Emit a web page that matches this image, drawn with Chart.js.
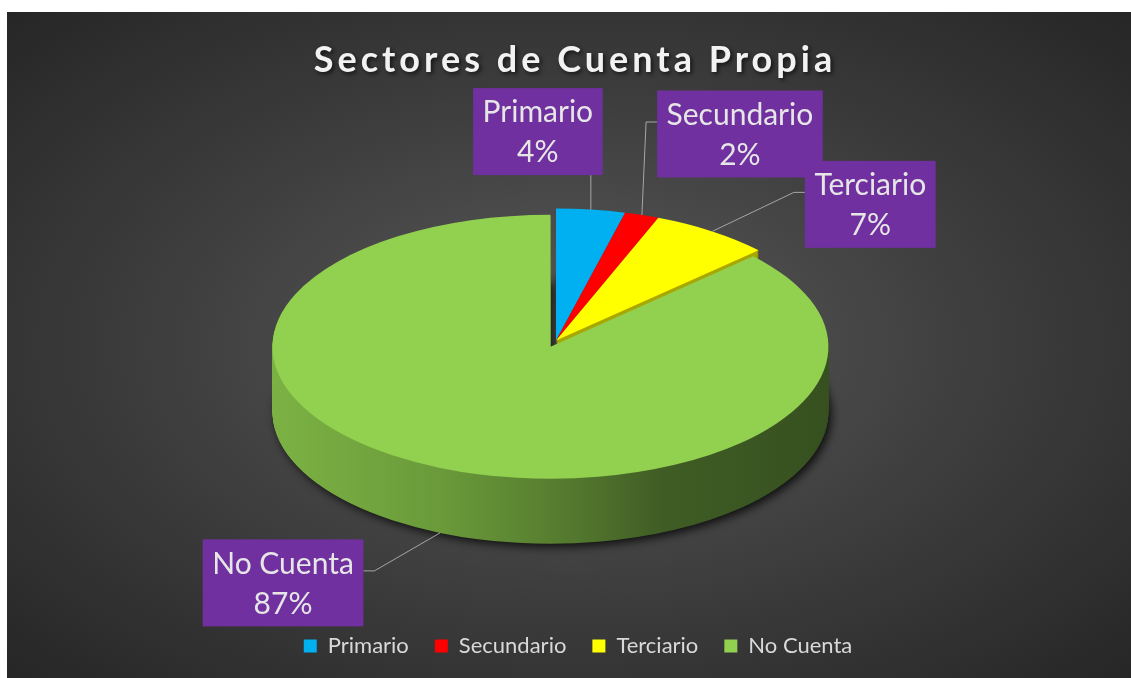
<!DOCTYPE html>
<html>
<head>
<meta charset="utf-8">
<script src="https://cdn.jsdelivr.net/npm/chart.js@4"></script>
<style>
  html, body { margin: 0; padding: 0; background: #fff; }
  .card {
    position: absolute; left: 7px; top: 12px; width: 1124px; height: 666px;
    background: radial-gradient(ellipse farthest-corner at 50% 50%, #5a5a5a 0%, #3c3c3c 55%, #262626 100%);
  }
</style>
</head>
<body>
<div class="card"><canvas id="chart" width="1124" height="666"></canvas></div>
<script>
const categories = ['Primario', 'Secundario', 'Terciario', 'No Cuenta'];
const values = [4, 2, 7, 87];
const topColors = ['#00B0F0', '#FF0000', '#FFFF00', '#92D050'];
const sideColors = ['#005f80', '#8c0000', '#a8a800', null];

// 3d look
const tilt = 0.475;
const depth = 65;
const explode = [0, 0, 0, 14];
// label box centre relative to its anchor on the pie edge
const labelOffsets = [[-53, -78], [98, -81], [158, -27], [-157, 50]];

Chart.defaults.font.family = 'Lato';

function paintArc(ctx, arc, fill) {
  const orig = arc.options;
  arc.options = Object.create(orig, { backgroundColor: { value: fill } });
  arc.draw(ctx);
  arc.options = orig;
}

const pie3d = {
  id: 'pie3d',
  afterInit(chart) {
    const ctx = chart.ctx;
    const title = chart.titleBlock;
    const titleDraw = title.draw.bind(title);
    title.draw = function () {
      ctx.save();
      ctx.translate(19, 0);
      ctx.letterSpacing = '4px';
      ctx.shadowColor = 'rgba(0,0,0,0.65)';
      ctx.shadowBlur = 4;
      ctx.shadowOffsetX = 2;
      ctx.shadowOffsetY = 2;
      titleDraw();
      ctx.restore();
    };
    const legend = chart.legend;
    const legendDraw = legend.draw.bind(legend);
    legend.draw = function () {
      ctx.save();
      ctx.translate(22, 0);
      legendDraw();
      ctx.restore();
    };
  },
  beforeDatasetsDraw(chart) {
    const ctx = chart.ctx;
    const arcs = chart.getDatasetMeta(0).data;
    const cx = arcs[0].x, cy = arcs[0].y, r = arcs[0].outerRadius;
    const shift = arcs.map((arc, i) => {
      const a = (arc.startAngle + arc.endAngle) / 2;
      return [Math.cos(a) * explode[i], Math.sin(a) * explode[i]];
    });

    const grad = ctx.createLinearGradient(cx - r, 0, cx + r, 0);
    grad.addColorStop(0, '#7cb244');
    grad.addColorStop(0.3, '#6a9a3a');
    grad.addColorStop(0.5, '#587f30');
    grad.addColorStop(0.7, '#405d25');
    grad.addColorStop(1, '#36501f');

    ctx.save();
    ctx.translate(0, cy);
    ctx.scale(1, tilt);
    ctx.translate(0, -cy);
    for (let d = depth; d > 0; d--) {
      if (d === depth) {
        ctx.shadowColor = 'rgba(0,0,0,0.8)';
        ctx.shadowBlur = 10;
        ctx.shadowOffsetX = 3;
        ctx.shadowOffsetY = 3;
      }
      arcs.forEach((arc, i) => {
        ctx.save();
        ctx.translate(shift[i][0], shift[i][1] + d / tilt);
        paintArc(ctx, arc, sideColors[i] || grad);
        ctx.restore();
      });
      if (d === depth) {
        ctx.shadowColor = 'rgba(0,0,0,0)';
        ctx.shadowBlur = 0;
        ctx.shadowOffsetX = 0;
        ctx.shadowOffsetY = 0;
      }
    }
    arcs.forEach((arc, i) => {
      ctx.save();
      ctx.translate(shift[i][0], shift[i][1]);
      arc.draw(ctx);
      ctx.restore();
    });
    ctx.restore();

    // data labels
    const total = values.reduce((s, v) => s + v, 0);
    ctx.save();
    ctx.font = '30px Lato';
    ctx.textAlign = 'center';
    ctx.textBaseline = 'middle';
    arcs.forEach((arc, i) => {
      const a = (arc.startAngle + arc.endAngle) / 2;
      const ax = arc.x + Math.cos(a) * (r + explode[i]);
      let ay = arc.y + Math.sin(a) * (r + explode[i]) * tilt;
      if (Math.sin(a) > 0) ay += depth;
      const lines = [categories[i], Math.round(values[i] / total * 100) + '%'];
      const w = Math.max(...lines.map(t => ctx.measureText(t).width)) + 19;
      const h = 87;
      const bx = ax + labelOffsets[i][0], by = ay + labelOffsets[i][1];
      const left = bx - w / 2, right = bx + w / 2, top = by - h / 2, bottom = by + h / 2;

      ctx.strokeStyle = '#a6a6a6';
      ctx.lineWidth = 1;
      ctx.beginPath();
      ctx.moveTo(ax, ay);
      if (ax >= left && ax <= right) {
        ctx.lineTo(ax, ay < top ? top : bottom);
      } else {
        const side = ax < left ? left : right;
        const ex = ax < left ? side - 11 : side + 11;
        ctx.lineTo(ex, by - 12);
        ctx.lineTo(side, by - 12);
      }
      ctx.stroke();

      ctx.fillStyle = '#7030A0';
      ctx.fillRect(left, top, w, h);
      ctx.fillStyle = '#e6e6e6';
      ctx.fillText(lines[0], bx, by - 19);
      ctx.fillText(lines[1], bx, by + 21);
    });
    ctx.restore();
    return false;
  }
};

new Chart(document.getElementById('chart'), {
  type: 'pie',
  data: {
    labels: categories,
    datasets: [{
      data: values,
      backgroundColor: topColors,
      borderWidth: 0
    }]
  },
  options: {
    responsive: false,
    animation: false,
    radius: 278,
    layout: { padding: { left: 0, right: 26, top: 0, bottom: 11 } },
    plugins: {
      title: {
        display: true,
        text: 'Sectores de Cuenta Propia',
        color: '#f2f2f2',
        font: { size: 36, weight: 'bold', lineHeight: 1.2 },
        padding: { top: 27, bottom: -10 }
      },
      legend: {
        position: 'bottom',
        labels: {
          color: '#d9d9d9',
          font: { size: 22 },
          boxWidth: 13,
          boxHeight: 13,
          padding: 26
        }
      },
      tooltip: { enabled: false }
    }
  },
  plugins: [pie3d]
});
</script>
</body>
</html>
